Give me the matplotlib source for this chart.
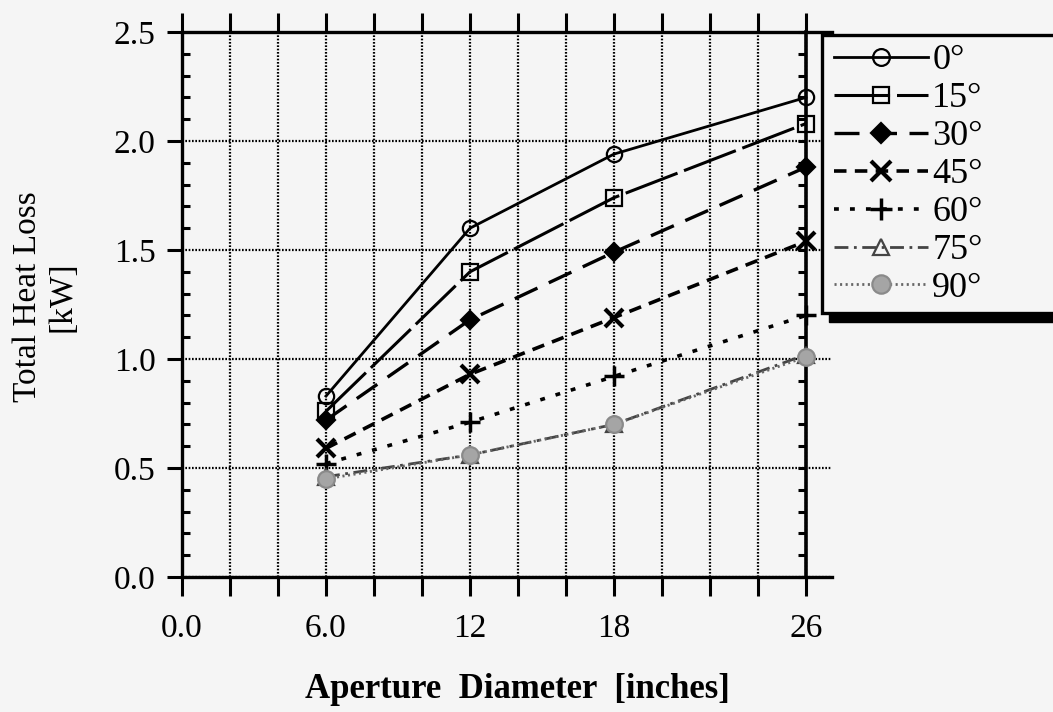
import matplotlib
matplotlib.use("Agg")
import matplotlib.pyplot as plt
from matplotlib.patches import Rectangle
from matplotlib.ticker import MultipleLocator
import numpy as np

# aperture diameters (inches) and total heat loss (kW) per tilt angle
diameters = [6, 12, 18, 26]
loss_0 = [0.83, 1.60, 1.94, 2.20]
loss_15 = [0.76, 1.40, 1.74, 2.08]
loss_30 = [0.72, 1.18, 1.49, 1.88]
loss_45 = [0.59, 0.93, 1.19, 1.54]
loss_60 = [0.52, 0.71, 0.92, 1.20]
loss_75 = [0.46, 0.56, 0.70, 1.02]
loss_90 = [0.45, 0.56, 0.70, 1.01]
angle_labels = ["0°", "15°", "30°", "45°", "60°", "75°", "90°"]
x_tick_labels = {0: "0.0", 6: "6.0", 12: "12", 18: "18", 26: "26"}

plt.rcParams["font.family"] = ["Liberation Serif", "DejaVu Serif"]
plt.rcParams["lines.scale_dashes"] = False

W, H = 1053, 712
fig = plt.figure(figsize=(W / 100, H / 100), dpi=100)
fig.patch.set_facecolor("#f5f5f5")

x_max = 650 / 24
ax = fig.add_axes([182 / W, 1 - 577 / H, 650 / W, 545 / H])
ax.set_facecolor("#f5f5f5")
ax.set_xlim(0, x_max)
ax.set_ylim(0, 2.5)

styles = [
    dict(ls="-", lw=2.0, marker="o", mfc="none", ms=11, color="black"),
    dict(ls=(0, (40, 5)), lw=2.2, marker="s", mfc="none", ms=11, color="black"),
    dict(ls=(0, (18, 9)), lw=2.4, marker="D", mfc="black", ms=9, color="black"),
    dict(ls=(0, (9, 6)), lw=2.6, marker="x", mew=3, ms=13, color="black"),
    dict(ls=(0, (3.5, 8)), lw=2.6, marker="+", mew=2.5, ms=14, color="black"),
    dict(ls=(0, (10, 4, 2, 4)), lw=2.0, marker="^", mfc="none", ms=11, color="#444444"),
    dict(ls=(0, (1.5, 2.5)), lw=2.0, marker="o", mfc="#a5a5a5", mec="#8a8a8a",
         ms=12, color="#666666"),
]
series = [loss_0, loss_15, loss_30, loss_45, loss_60, loss_75, loss_90]

handles = []
for vals, st in zip(series, styles):
    st = dict(st)
    mew = st.pop("mew", 1.6)
    (h,) = ax.plot(diameters, vals, mew=mew, zorder=3, clip_on=False, **st)
    handles.append(h)

# grid and spines
ax.grid(True, which="major", linestyle=(0, (1.2, 1.2)), lw=1.6, color="black")
for side in ("left", "bottom", "top"):
    ax.spines[side].set_linewidth(2.4)
ax.spines["right"].set_visible(False)

ax.set_xticks(np.arange(0, 27, 2))
ax.set_xticklabels([x_tick_labels.get(int(v), "") for v in np.arange(0, 27, 2)])
ax.tick_params(axis="x", which="major", direction="out", length=14, width=2.2,
               top=True, bottom=True, labelsize=24, pad=12)

ax.set_yticks(np.arange(0, 2.51, 0.5))
ax.set_yticklabels([f"{v:.1f}" for v in np.arange(0, 2.51, 0.5)])
ax.yaxis.set_minor_locator(MultipleLocator(0.1))
ax.tick_params(axis="y", which="major", direction="out", length=11, width=2.2,
               labelsize=24, pad=8, right=False)
ax.tick_params(axis="y", which="minor", direction="in", length=6, width=2.2,
               right=False)

# inner axis line at the largest aperture
sec = ax.secondary_yaxis(26 / x_max)
sec.spines["right"].set_linewidth(2.6)
sec.set_yticks(np.arange(0, 2.51, 0.5))
sec.yaxis.set_minor_locator(MultipleLocator(0.1))
sec.tick_params(axis="y", which="both", direction="in", length=6, width=2.2,
                labelright=False)

# legend box with heavy drop shadow
box_left, box_top, box_bottom = 822, 35, 313
fig.add_artist(Rectangle(((box_left + 7) / W, 1 - (box_bottom + 9) / H), 0.5,
                         (box_bottom - box_top) / H, transform=fig.transFigure,
                         facecolor="black", edgecolor="black", zorder=5))
fig.add_artist(Rectangle((box_left / W, 1 - box_bottom / H), 0.5,
                         (box_bottom - box_top) / H, transform=fig.transFigure,
                         facecolor="#f5f5f5", edgecolor="black", lw=2.4, zorder=6))
leg = fig.legend(handles, angle_labels, loc="upper left",
                 bbox_to_anchor=(834 / W, 1 - 44 / H), frameon=False, fontsize=26,
                 handlelength=2.6, handletextpad=0.12, labelspacing=0.13,
                 borderpad=0, borderaxespad=0, numpoints=1, markerscale=1.1)
leg.set_zorder(7)

fig.text(45 / W, 1 - 297 / H, "Total Heat Loss\n[kW]", rotation=90, ha="center",
         va="center", fontsize=24, multialignment="center", linespacing=1.15)
fig.text(517 / W, 1 - 690 / H, "Aperture  Diameter  [inches]", ha="center",
         va="center", fontsize=25, fontweight="bold")

fig.savefig("out.png", dpi=100, facecolor=fig.get_facecolor())
